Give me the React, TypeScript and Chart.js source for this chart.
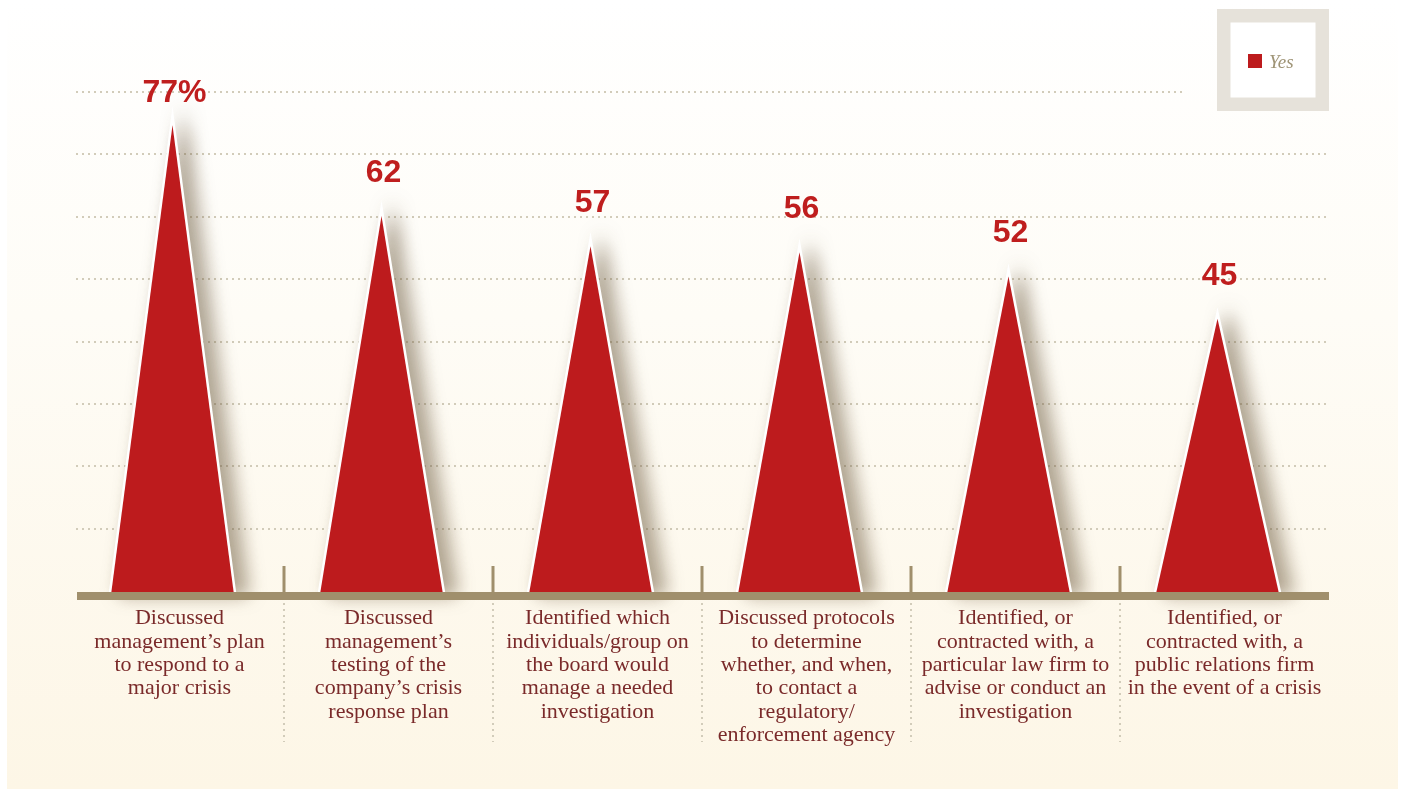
import React, { useEffect, useRef } from 'react';
import { Chart, registerables } from 'chart.js';

Chart.register(...registerables);

const categories: string[][] = [
  ['Discussed', 'management’s plan', 'to respond to a', 'major crisis'],
  ['Discussed', 'management’s', 'testing of the', 'company’s crisis', 'response plan'],
  ['Identified which', 'individuals/group on', 'the board would', 'manage a needed', 'investigation'],
  ['Discussed protocols', 'to determine', 'whether, and when,', 'to contact a', 'regulatory/', 'enforcement agency'],
  ['Identified, or', 'contracted with, a', 'particular law firm to', 'advise or conduct an', 'investigation'],
  ['Identified, or', 'contracted with, a', 'public relations firm', 'in the event of a crisis'],
];
const yesValues: number[] = [77, 62, 57, 56, 52, 45];
const valueLabels: string[] = ['77%', '62', '57', '56', '52', '45'];
const seriesName = 'Yes';

const AXIS_MAX = 82.5;
const GRID_STEP = AXIS_MAX / 8;

const RED = '#bd1b1d';
const AXIS_BROWN = '#a08f6c';
const DOT = '#d2ccba';

const spikePlugin = {
  id: 'spikes',
  beforeDatasetsDraw(chart: any) {
    const { ctx, chartArea, scales } = chart;
    const x = scales.x;
    const y = scales.y;
    const zeroY = y.getPixelForValue(0);
    const legendLeft = chartArea.right - 112;
    ctx.save();
    ctx.setLineDash([2, 4]);
    ctx.lineWidth = 2;
    ctx.strokeStyle = DOT;
    y.ticks.forEach((t: any) => {
      if (t.value <= 0) return;
      const py = Math.round(y.getPixelForValue(t.value));
      const right = py < chartArea.top + 20 ? legendLeft - 32 : chartArea.right;
      ctx.beginPath();
      ctx.moveTo(chartArea.left + 1, py);
      ctx.lineTo(right, py);
      ctx.stroke();
    });
    for (let i = 0; i < categories.length - 1; i++) {
      const bx = Math.round((x.getPixelForValue(i) + x.getPixelForValue(i + 1)) / 2);
      ctx.beginPath();
      ctx.moveTo(bx, zeroY + 12);
      ctx.lineTo(bx, zeroY + 151);
      ctx.stroke();
    }
    ctx.restore();
  },
  afterDatasetsDraw(chart: any) {
    const { ctx, chartArea, scales } = chart;
    const x = scales.x;
    const y = scales.y;
    const zeroY = y.getPixelForValue(0);
    const meta = chart.getDatasetMeta(0);
    meta.data.forEach((bar: any, i: number) => {
      const p = bar.getProps(['x', 'y', 'base', 'width'], true);
      const xc = p.x - 7;
      const half = p.width / 2;
      const path = () => {
        ctx.beginPath();
        ctx.moveTo(xc - half, p.base + 1);
        ctx.lineTo(xc, p.y);
        ctx.lineTo(xc + half, p.base + 1);
        ctx.closePath();
      };
      ctx.save();
      ctx.shadowColor = 'rgba(100, 80, 50, 0.5)';
      ctx.shadowBlur = 18;
      ctx.shadowOffsetX = 11;
      ctx.shadowOffsetY = 0;
      ctx.lineJoin = 'miter';
      ctx.miterLimit = 40;
      ctx.lineWidth = 5;
      ctx.strokeStyle = '#ffffff';
      ctx.fillStyle = '#ffffff';
      path();
      ctx.fill();
      ctx.stroke();
      ctx.restore();
      ctx.save();
      ctx.fillStyle = RED;
      path();
      ctx.fill();
      ctx.restore();

      ctx.save();
      ctx.font = 'bold 32px "Liberation Sans", Arial, sans-serif';
      ctx.fillStyle = '#bf1e1e';
      ctx.textAlign = 'center';
      ctx.textBaseline = 'alphabetic';
      const ly = Math.max(p.y - 34, chartArea.top + 10);
      ctx.fillText(valueLabels[i], xc + 2, ly);
      ctx.restore();
    });

    ctx.save();
    ctx.fillStyle = AXIS_BROWN;
    ctx.fillRect(chartArea.left + 2, zeroY + 1, chartArea.right - chartArea.left - 2, 8);
    for (let i = 0; i < categories.length - 1; i++) {
      const bx = Math.round((x.getPixelForValue(i) + x.getPixelForValue(i + 1)) / 2);
      ctx.fillRect(bx - 1.5, zeroY - 25, 3, 26);
    }
    ctx.restore();

    const boxRight = chartArea.right;
    const boxLeft = boxRight - 112;
    const boxTop = 9;
    ctx.save();
    ctx.fillStyle = '#e6e2da';
    ctx.fillRect(boxLeft, boxTop, 112, 102);
    ctx.fillStyle = '#ffffff';
    ctx.fillRect(boxLeft + 13.5, boxTop + 13.5, 85, 75);
    ctx.fillStyle = RED;
    ctx.fillRect(boxLeft + 31, 54, 14, 14);
    ctx.fillStyle = '#9f9476';
    ctx.font = 'italic 19px "Liberation Serif", "Times New Roman", serif';
    ctx.textBaseline = 'alphabetic';
    ctx.textAlign = 'left';
    ctx.fillText(chart.data.datasets[0].label, boxLeft + 52, 68);
    ctx.restore();
  },
};

export default function App() {
  const canvasRef = useRef<HTMLCanvasElement | null>(null);

  useEffect(() => {
    const canvas = canvasRef.current;
    if (!canvas) return;
    const chart = new Chart(canvas, {
      type: 'bar',
      data: {
        labels: categories,
        datasets: [
          {
            label: seriesName,
            data: yesValues,
            backgroundColor: 'rgba(0,0,0,0)',
            borderWidth: 0,
            barPercentage: 0.585,
            categoryPercentage: 1,
          },
        ],
      },
      options: {
        responsive: false,
        animation: false,
        layout: { padding: { left: 75, right: 74, top: 92, bottom: 0 } },
        plugins: {
          legend: { display: false },
          tooltip: { enabled: false },
        },
        scales: {
          x: {
            grid: { display: false, drawTicks: false },
            border: { display: false },
            ticks: {
              color: '#7a2a2a',
              padding: 16,
              maxRotation: 0,
              autoSkip: false,
              font: { family: '"Liberation Serif", "Times New Roman", serif', size: 22, lineHeight: 1.06 },
            },
            afterFit(scale: any) {
              scale.height = 199;
            },
          },
          y: {
            display: false,
            min: 0,
            max: AXIS_MAX,
            ticks: { stepSize: GRID_STEP },
          },
        },
      },
      plugins: [spikePlugin],
    });
    return () => chart.destroy();
  }, []);

  return (
    <div style={{ position: 'fixed', left: 0, top: 0, width: 1403, height: 790, background: '#ffffff' }}>
      <div
        style={{
          position: 'absolute',
          left: 7,
          top: 0,
          width: 1391,
          height: 789,
          background: 'linear-gradient(to bottom, #ffffff 0%, #fefcf6 40%, #fdf6e6 100%)',
        }}
      />
      <canvas
        ref={canvasRef}
        width={1403}
        height={790}
        style={{ position: 'absolute', left: 0, top: 0, width: 1403, height: 790, display: 'block' }}
      />
    </div>
  );
}
